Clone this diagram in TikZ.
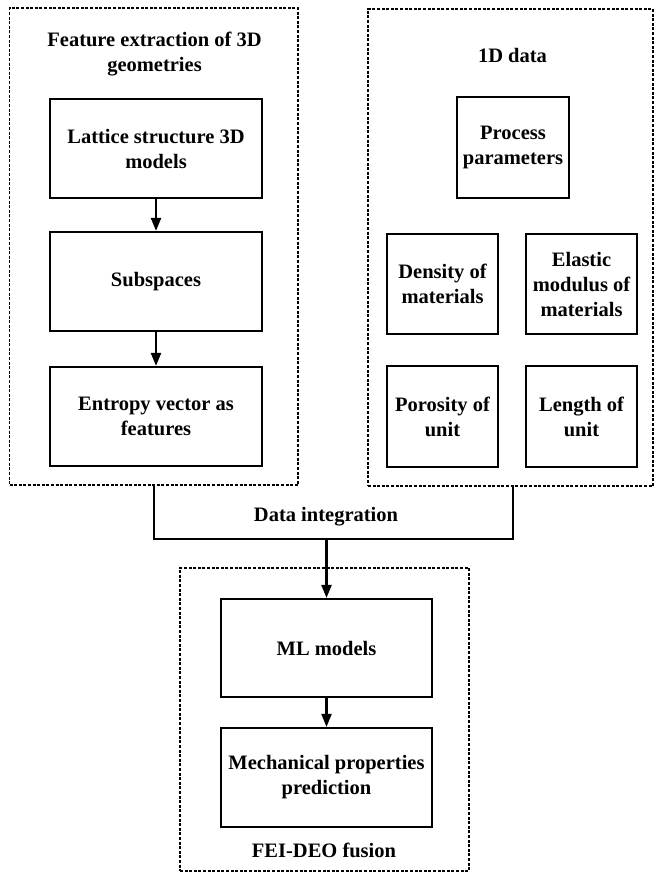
\documentclass[tikz,border=0pt]{standalone}
\usepackage{fontspec}
\setmainfont{Liberation Serif}
\usetikzlibrary{arrows.meta}
\begin{document}
\begin{tikzpicture}[x=1pt,y=-1pt,
  every node/.style={font=\fontsize{20.5}{25}\selectfont\bfseries, align=center, inner sep=0pt},
  box/.style={draw, line width=2.2pt, minimum width=#1, minimum height=99pt},
  grp/.style={draw, line width=1.5pt, dash pattern=on 3pt off 1.6pt},
  conn/.style={line width=2.2pt},
  arr/.style={line width=2.2pt, -{Triangle[length=13pt,width=10pt]}}]
\useasboundingbox (0,0) rectangle (656,873);
% group frames
\node[grp, minimum width=288.5pt, minimum height=477pt] (leftgrp) at (153.75,246.5) {};
\node[grp, minimum width=285pt, minimum height=477pt] (rightgrp) at (510.5,247.5) {};
\node[grp, minimum width=289pt, minimum height=303pt] (botgrp) at (324.5,719.5) {};
% titles
\node (t1) at (154.5,54) {Feature extraction of 3D\\geometries};
\node (t2) at (512.5,55) {1D data};
\node (t3) at (326,517) {Data integration};
\node (t4) at (324,850) {FEI-DEO fusion};
% left column
\node[box=212pt] (lat) at (156,148.5) {Lattice structure 3D\\models};
\node[box=212pt] (sub) at (156,281.5) {Subspaces};
\node[box=212pt] (ent) at (156,416.5) {Entropy vector as\\features};
% right column
\node[box=112pt, minimum height=101pt] (proc) at (513,147.5) {Process\\parameters};
\node[box=111pt, minimum height=100pt] (dens) at (442.5,284) {Density of\\materials};
\node[box=111pt, minimum height=100pt] (elas) at (581.5,284) {Elastic\\modulus of\\materials};
\node[box=111pt, minimum height=101pt] (poro) at (442.5,416.5) {Porosity of\\unit};
\node[box=111pt, minimum height=101pt] (leng) at (581.5,416.5) {Length of\\unit};
% bottom
\node[box=211pt, minimum height=98pt] (ml) at (326.5,648) {ML models};
\node[box=211pt] (mech) at (326.5,777.5) {Mechanical properties\\prediction};
% connectors
\draw[arr] (lat) -- (sub);
\draw[arr] (sub) -- (ent);
\draw[arr] (ml) -- (mech);
\coordinate (jl) at (154,539);
\coordinate (jr) at (513,539);
\coordinate (jm) at (326.5,539);
\draw[conn] (leftgrp.south -| jl) -- (jl) -- (jr) -- (rightgrp.south -| jr);
\draw[arr] (jm) -- (ml.north);
\end{tikzpicture}
\end{document}
